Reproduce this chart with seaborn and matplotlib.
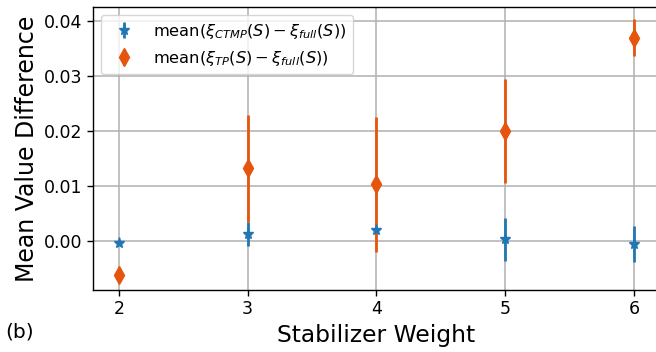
import matplotlib
matplotlib.use("Agg")
import matplotlib.pyplot as plt
import seaborn as sns
import numpy as np

weights = [2, 3, 4, 5, 6]
ctmp_mean = [-0.0004, 0.0013, 0.0021, 0.0003, -0.0005]
ctmp_err = [0.0002, 0.0022, 0.0005, 0.0039, 0.0033]
tp_mean = [-0.0061, 0.0132, 0.0103, 0.0200, 0.0370]
tp_err = [0.0004, 0.0097, 0.0122, 0.0094, 0.0033]

sns.set_style("whitegrid", {"axes.edgecolor": "black", "grid.color": "#b0b0b0",
                            "xtick.bottom": True, "ytick.left": True,
                            "text.color": "black", "axes.labelcolor": "black",
                            "xtick.color": "black", "ytick.color": "black"})
plt.rcParams['font.family'] = ['DejaVu Sans']
plt.rcParams['mathtext.fontset'] = 'dejavusans'

fig = plt.figure(figsize=(6.56, 3.52), dpi=100)
ax = fig.add_axes([0.1418, 0.176, 0.864, 0.804])

blue = "#1f77b4"
orange = "#e6550d"
ax.errorbar(weights, ctmp_mean, yerr=ctmp_err, fmt='*', color=blue, ms=8,
            elinewidth=2, capsize=0, zorder=3,
            label=r'mean($\xi_{CTMP}(S) - \xi_{full}(S)$)')
ax.errorbar(weights, tp_mean, yerr=tp_err, fmt='d', color=orange, ms=9,
            elinewidth=2, capsize=0, zorder=3,
            label=r'mean($\xi_{TP}(S) - \xi_{full}(S)$)')

ax.set_xlim(1.8, 6.2)
ax.set_ylim(-0.0089, 0.04255)
ax.set_xticks(weights)
ax.set_yticks([0.0, 0.01, 0.02, 0.03, 0.04])
ax.set_yticklabels(["0.00", "0.01", "0.02", "0.03", "0.04"])
ax.tick_params(axis='both', labelsize=12.5, length=4, width=1, color='black',
               labelcolor='black')
ax.set_xlabel("Stabilizer Weight", fontsize=16.8, color='black')
ax.set_ylabel("Mean Value Difference", fontsize=17, color='black')
for s in ax.spines.values():
    s.set_linewidth(1)
ax.grid(True, linewidth=1.1)
ax.legend(loc='upper left', fontsize=11.7, framealpha=0.8, borderaxespad=0.5,
          bbox_to_anchor=(0.0, 1.0))
fig.text(0.008, 0.04, "(b)", fontsize=14.5, color='black')

fig.savefig("out.png", dpi=100)
